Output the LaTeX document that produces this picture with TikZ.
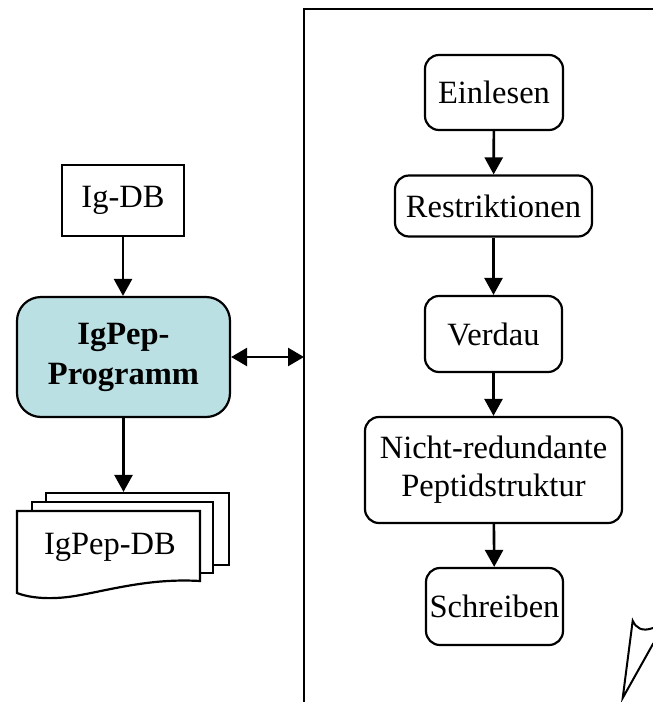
\documentclass[tikz,border=0pt]{standalone}
\usepackage{fontspec}
\setmainfont{Liberation Serif}
\usetikzlibrary{arrows.meta}
\definecolor{progfill}{HTML}{BBE0E3}
\begin{document}
\begin{tikzpicture}[x=1pt,y=-1pt,
  every node/.style={font=\fontsize{32.5}{37}\selectfont, inner sep=0pt, align=center},
  box/.style={draw, line width=2.2pt, minimum width=#1},
  rbox/.style={draw, line width=2.2pt, rounded corners=14pt},
  conn/.style={line width=2.6pt, -{Triangle[length=17pt,width=18pt]}},
  sheet/.style={draw, fill=white, line width=2.2pt}]
\useasboundingbox (0,0) rectangle (653,702);
% frame (cropped)
\draw[line width=2.2pt] (653,9) -- (304,9) -- (304,702);
\coordinate (frame) at (304,357);
% left column
\node[box=122pt, minimum height=71pt] (igdb) at (123,200.5) {Ig-DB};
\node[draw, line width=2.2pt, rounded corners=24pt, fill=progfill, minimum width=213pt, minimum height=120pt, font=\fontsize{32.5}{40}\selectfont\bfseries] (prog) at (123.5,357) {IgPep-\\Programm};
% multi-document
\node[sheet, minimum width=183pt, minimum height=72pt] (docback) at (137.5,529) {};
\node[sheet, minimum width=181pt, minimum height=71pt] (docmid) at (122.5,537.5) {};
\draw[line width=2.2pt, fill=white] (17,511) -- (200,511) -- (200,581)
  .. controls (150,578) and (110,590) .. (75,596)
  .. controls (50,600) and (30,598) .. (17,593) -- cycle;
\node (doc) at (110,547) {IgPep-DB};
% right column
\node[rbox, minimum width=138pt, minimum height=75pt] (ein) at (494,92.5) {Einlesen};
\node[rbox, minimum width=197pt, minimum height=61pt] (res) at (493.5,206) {Restriktionen};
\node[rbox, minimum width=137pt, minimum height=76pt] (ver) at (493.5,334) {Verdau};
\node[rbox, minimum width=257pt, minimum height=106pt, font=\fontsize{32.5}{38}\selectfont] (nic) at (493.5,470) {Nicht-redundante\\Peptidstruktur};
\node[rbox, minimum width=137pt, minimum height=77pt] (sch) at (494.5,606.5) {Schreiben};
% connectors
\draw[conn] (igdb.south) -- (igdb.south |- prog.north);
\draw[conn] (prog.south) -- (prog.south |- docback.north);
\draw[line width=2.6pt, {Triangle[length=16pt,width=18pt]}-{Triangle[length=16pt,width=18pt]}] (prog.east) -- (frame);
\draw[conn] (ein) -- (res);
\draw[conn] (res) -- (ver);
\draw[conn] (ver) -- (nic);
\draw[conn] (nic) -- (sch);
% cropped shape bottom right
\draw[line width=2pt] (653,628) .. controls (642,632) and (636,628) .. (632.7,620.7) -- (622.7,698) -- (653.5,643);
\end{tikzpicture}
\end{document}
